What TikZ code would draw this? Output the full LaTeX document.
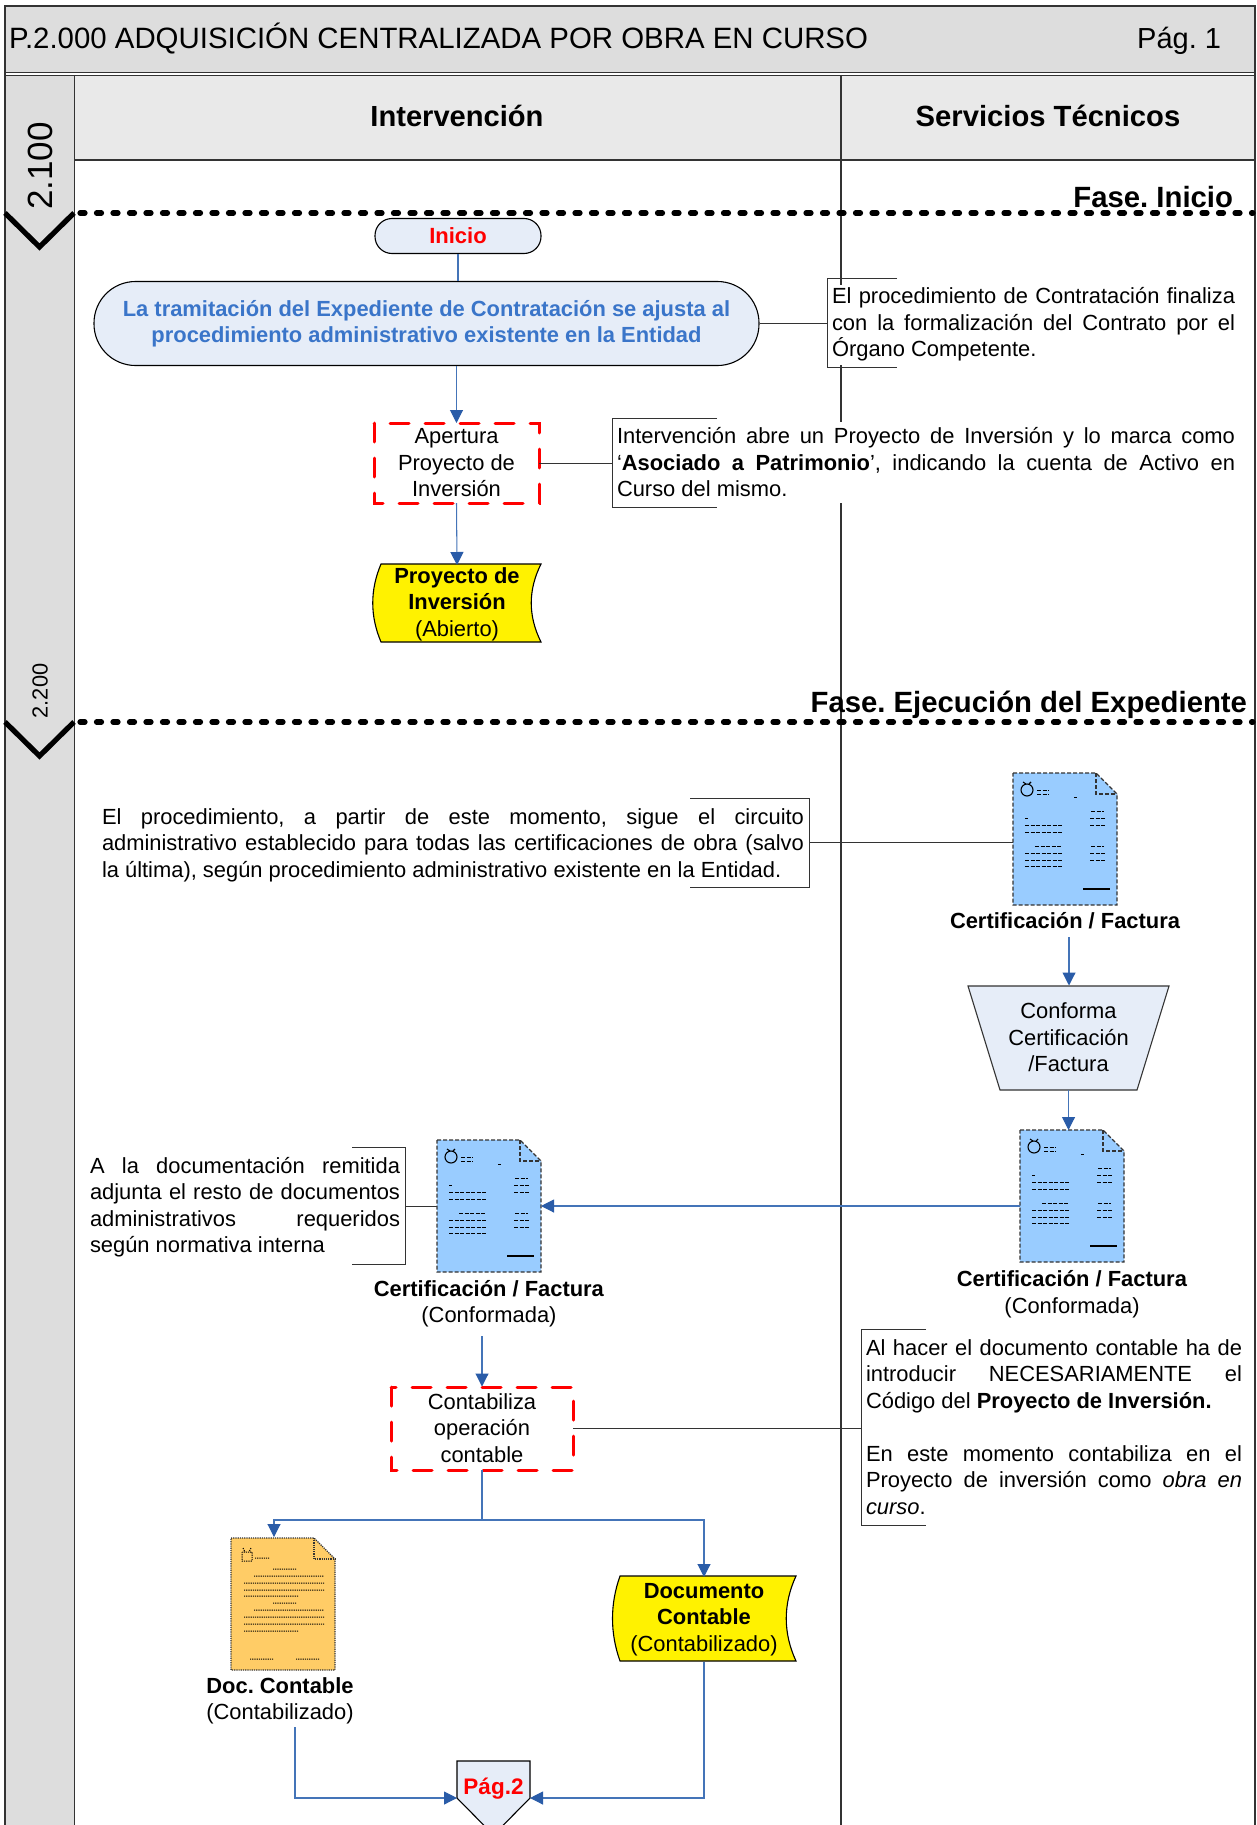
\documentclass[tikz,border=0pt]{standalone}
\usepackage{fontspec}
\setmainfont{Liberation Sans}
\usetikzlibrary{arrows.meta}
\definecolor{bandgrey}{HTML}{DDDDDD}
\definecolor{headgrey}{HTML}{E9E9E9}
\definecolor{lineblue}{HTML}{4474B8}
\definecolor{tipblue}{HTML}{2A5CA8}
\definecolor{paleblue}{HTML}{E6EDF8}
\definecolor{textblue}{HTML}{3A75C9}
\definecolor{docblue}{HTML}{99CCFF}
\definecolor{docorange}{HTML}{FFCC66}
\definecolor{frameg}{HTML}{333333}
\frenchspacing
\tikzset{
  x=1pt,y=-1pt,
  framel/.style={draw=frameg,line width=1.3pt},
  flow/.style={draw=lineblue,line width=1.05pt},
  arr/.style={flow,-{Triangle[length=13pt,width=13pt,fill=tipblue,color=tipblue]}},
  tie/.style={draw=frameg,line width=1pt},
  body/.style={inner sep=0pt,outer sep=0pt,font=\fontsize{21.9}{26.5}\selectfont\frenchspacing,align=center},
  shapebox/.style={body,minimum width=#1,text width=#1},
  note/.style={body,align=justify,fill=white,text width=#1,inner xsep=5pt},
  phase/.style={draw=black,line width=5.2pt,line cap=round,dash pattern=on 5pt off 11.5pt},
  chev/.style={draw=black,line width=5.2pt,line join=miter},
  phasetxt/.style={inner sep=0pt,outer sep=0pt,font=\fontsize{29.3}{31}\selectfont\bfseries\frenchspacing,anchor=base east},
  paletheme/.style={draw=black,line width=1.1pt,fill=paleblue},
  reddash/.style={draw=red,line width=3pt,dash pattern=on 19pt off 16pt,line cap=round},
  storage/.style={draw=black,line width=1.1pt,fill=yellow},
  ghost/.style={inner sep=0pt,outer sep=0pt,minimum width=#1},
}
\newcommand{\bluedoc}[3]{%
\begin{scope}[shift={(#2,#3)}]
 \draw[fill=docblue,draw=frameg,line width=1.2pt,dash pattern=on 4pt off 2pt] (0,0)--(83,0)--(104,21)--(104,132)--(0,132)--cycle;
 \draw[draw=frameg,line width=1.2pt,dash pattern=on 4pt off 2pt] (83,0)--(83,21)--(104,21);
 \draw[black,line width=1.1pt] (14,17) circle (6);
 \draw[black,line width=1.1pt] (10,9)--(13,11) (18,9)--(16,11);
 \draw[black,line width=1pt,dash pattern=on 4pt off 1.5pt]
   (24,17)--(36,17) (24,21)--(36,21) (61,24)--(64,24)
   (78,38)--(91,38) (77,45)--(92,45) (77,52)--(92,52)
   (12,45)--(15,45) (12,52)--(49,52) (12,59)--(49,59)
   (22,73)--(49,73) (12,80)--(49,80) (12,87)--(49,87) (12,93)--(49,93)
   (78,73)--(91,73) (77,80)--(92,80) (77,87)--(92,87);
 \draw[black,line width=1.2pt] (70,116)--(97,116);
 \node[ghost=104pt,minimum height=132pt] (#1) at (52,66) {};
\end{scope}}
\newcommand{\orangedoc}[3]{%
\begin{scope}[shift={(#2,#3)}]
 \draw[fill=docorange,draw=frameg,line width=1.2pt,dash pattern=on 1.2pt off 1pt] (0,0)--(83,0)--(104,21)--(104,132)--(0,132)--cycle;
 \draw[draw=frameg,line width=1.2pt,dash pattern=on 1.2pt off 1pt] (83,0)--(83,21)--(104,21);
 \draw[black,line width=1pt,dash pattern=on 1.2pt off 1pt]
   (11,14) rectangle (21,23) (12,10)--(14,14) (20,10)--(18,14)
   (24,20)--(38,20) (42,31)--(66,31) (23,38)--(93,38) (13,45)--(93,45)
   (13,52)--(93,52) (13,58)--(68,58) (42,65)--(66,65) (23,72)--(93,72)
   (13,79)--(93,79) (13,86)--(93,86) (13,93)--(68,93) (19,121)--(43,121) (65,121)--(89,121);
 \node[ghost=104pt,minimum height=132pt] (#1) at (52,66) {};
\end{scope}}
\begin{document}
\begin{tikzpicture}
\useasboundingbox (0,0) rectangle (1256,1825);
\clip (0,0) rectangle (1256,1825);
\fill[white] (0,0) rectangle (1256,1825);
% header and bands
\fill[bandgrey] (5,6) rectangle (1255,73);
\fill[bandgrey] (5,75) rectangle (74.5,1825);
\fill[headgrey] (74.5,75) rectangle (1255,160);
\draw[framel] (5,1825)--(5,6)--(1255,6)--(1255,1825);
\draw[framel] (5,72.8)--(1255,72.8) (5,75.2)--(1255,75.2);
\draw[framel] (74.5,75)--(74.5,1825);
\draw[framel] (74.5,160)--(1255,160);
\draw[draw=frameg,line width=1.5pt] (841,75)--(841,1825);
\node[inner sep=0pt,font=\fontsize{29.4}{32}\selectfont,anchor=base west] (title) at (9,49) {P.2.000 ADQUISICIÓN CENTRALIZADA POR OBRA EN CURSO};
\node[inner sep=0pt,font=\fontsize{29}{30}\selectfont\frenchspacing,anchor=base west] (pagnum) at (1137,49) {Pág. 1};
\node[inner sep=0pt,font=\fontsize{29.1}{32}\selectfont\bfseries] (colA) at (457,116) {Intervención};
\node[inner sep=0pt,font=\fontsize{29.2}{32}\selectfont\bfseries] (colB) at (1048,116) {Servicios Técnicos};
\node[inner sep=0pt,font=\fontsize{35}{38}\selectfont,rotate=90] (sec1) at (40,166) {2.100};
\node[inner sep=0pt,font=\fontsize{21.8}{24}\selectfont,rotate=90] (sec2) at (40,691) {2.200};
% phases
\draw[phase] (80,213)--(1253,213);
\draw[chev] (5,213)--(39.5,247)--(74,213);
\node[phasetxt] (ph1) at (1233,207) {Fase. Inicio};
\draw[phase] (80,722)--(1253,722);
\draw[chev] (5,722)--(39.5,756)--(74,722);
\node[phasetxt] (ph2) at (1247,712) {Fase. Ejecución del Expediente};
% top flow
\node[paletheme,rounded corners=17pt,minimum width=166pt,minimum height=35pt,inner sep=0pt,font=\fontsize{22}{26}\selectfont\bfseries,text=red] (inicio) at (458,236) {Inicio};
\node[paletheme,rounded corners=41.5pt,minimum width=665pt,minimum height=84pt,inner sep=0pt,align=center,font=\fontsize{21.9}{26.5}\selectfont\bfseries,text=textblue] (big) at (426.5,323.5) {La tramitación del Expediente de Contratación se ajusta al\\procedimiento administrativo existente en la Entidad};
\node[body,minimum width=165pt,minimum height=80pt] (aper) at (456.5,463) {Apertura\\Proyecto de\\Inversión};
\draw[reddash] (374,423) rectangle (539,503);
\draw[storage] (381,564)--(541,564) .. controls (528,590) and (528,616) .. (541,642)--(381,642) .. controls (370,616) and (370,590) .. (381,564)--cycle;
\node[body,minimum width=168pt,minimum height=78pt] (proy) at (457,604) {\textbf{Proyecto de}\\\textbf{Inversión}\\(Abierto)};
\draw[flow] (inicio.south)--(inicio.south |- big.north);
\draw[arr] (aper.north |- big.south)--(aper.north);
\draw[arr] (aper.south)--(proy.north);
% note 1
\node[note=403pt,minimum height=80pt,anchor=west] (n1) at (827,324.5) {El procedimiento de Contratación finaliza\linebreak con la formalización del Contrato por el\linebreak Órgano Competente.};
\draw[tie] (897,278)-|(827,367)--(897,367);
\draw[tie] (big.east)--(big.east -| n1.west);
% note 2
\node[note=618pt,minimum height=81pt,anchor=west] (n2) at (612,462.5) {Intervención abre un Proyecto de Inversión y lo marca como\linebreak `\textbf{Asociado a Patrimonio}', indicando la cuenta de Activo en\linebreak Curso del mismo.};
\draw[tie] (717,418)-|(612,507)--(717,507);
\draw[tie] (aper.east)--(aper.east -| n2.west);
% certification 1
\bluedoc{d1}{1013}{773}
\node[note=702pt,fill=none,minimum height=80pt,anchor=east] (n3) at (809,845) {El procedimiento, a partir de este momento, sigue el circuito\linebreak administrativo establecido para todas las certificaciones de obra (salvo\linebreak la última), según procedimiento administrativo existente en la Entidad.};
\draw[tie] (690,798)-|(809,887)--(690,887);
\coordinate (n3tie) at (809,842);
\draw[tie] (n3tie)--(n3tie -| d1.west);
\node[body,font=\fontsize{21.9}{26}\selectfont\bfseries\frenchspacing] (l1) at (1065,921) {Certificación / Factura};
\coordinate (l1out) at (1069,937);
\draw[draw=frameg,line width=1.1pt,fill=paleblue] (968,986)--(1169,986)--(1137,1090)--(1000,1090)--cycle;
\node[body,minimum width=201pt,minimum height=104pt] (trap) at (1068.5,1037.5) {Conforma\\Certificación\\/Factura};
\draw[arr] (l1out)--(l1out |- trap.north);
\bluedoc{d2}{1020}{1130}
\draw[arr] (trap.south)--(trap.south |- d2.north);
\node[body] (l2) at (1072,1294) {\textbf{Certificación / Factura}\\(Conformada)};
\bluedoc{d3}{437}{1140}
\draw[arr] (d2.west |- d3.east)--(d3.east);
\node[note=310pt,fill=none,anchor=east] (n4) at (405,1207) {A la documentación remitida\linebreak adjunta el resto de documentos\linebreak administrativos\hfill requeridos\linebreak según normativa interna};
\draw[tie] (352,1147)-|(405,1264)--(352,1264);
\coordinate (n4tie) at (405,1206);
\draw[tie] (n4tie)--(n4tie -| d3.west);
\node[body] (l3) at (489,1303.5) {\textbf{Certificación / Factura}\\(Conformada)};
% contabiliza
\coordinate (l3out) at (482,1336);
\node[body,minimum width=182pt,minimum height=83pt] (cont) at (482,1428) {Contabiliza\\operación\\contable};
\draw[reddash] (391,1387) rectangle (573,1470);
\draw[arr] (l3out)--(cont.north);
\node[note=376pt,fill=none,anchor=west] (n5) at (861,1427) {Al hacer el documento contable ha de\linebreak introducir\hfill NECESARIAMENTE\hfill el\linebreak Código del \textbf{Proyecto de Inversión.}\par\vspace{26.5pt}En este momento contabiliza en el\linebreak Proyecto de inversión como \emph{obra en\linebreak curso}.};
\draw[tie] (926,1329)-|(861,1525)--(926,1525);
\draw[tie] (cont.east)--(cont.east -| n5.west);
% documents at the bottom
\orangedoc{d4}{231}{1538}
\draw[storage] (620,1576)--(796,1576) .. controls (783,1604) and (783,1633) .. (796,1661)--(620,1661) .. controls (610,1633) and (610,1604) .. (620,1576)--cycle;
\node[body,minimum width=184pt,minimum height=85pt] (dc) at (704,1619.5) {\textbf{Documento}\\\textbf{Contable}\\(Contabilizado)};
\coordinate (branch) at (cont.south |- 0,1520);
\coordinate (d4in) at (274,1537);
\draw[flow] (cont.south)--(branch);
\draw[arr] (branch)-|(d4in);
\draw[arr] (branch)-|(dc.north);
\node[body] (l4) at (280,1701) {\textbf{Doc. Contable}\\(Contabilizado)};
% page connector
\draw[paletheme] (457,1761)--(530,1761)--(530,1798)--(493.5,1835)--(457,1798)--cycle;
\node[ghost=73pt,minimum height=37pt] (pag) at (493.5,1779.5) {};
\node[inner sep=0pt,font=\fontsize{22.5}{26}\selectfont\bfseries,text=red] (pagt) at (493.5,1789) {Pág.2};
\coordinate (l4out) at (295,1727);
\draw[arr] (l4out)|-(pag.south west);
\draw[arr] (dc.south)|-(pag.south east);
\end{tikzpicture}
\end{document}
